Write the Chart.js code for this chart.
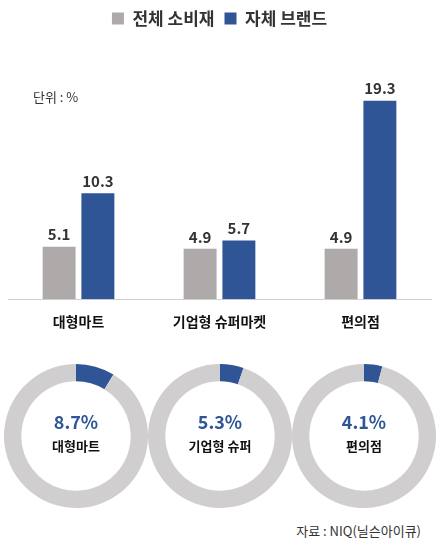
<!DOCTYPE html><html><head><meta charset="utf-8">
<script src="https://cdn.jsdelivr.net/npm/chart.js@4/dist/chart.umd.min.js"></script>
<style>
body{margin:0;width:439px;height:552px;background:#fff;font-family:"Noto Sans CJK KR",sans-serif;position:relative;overflow:hidden}
#bar{position:absolute;left:0;top:0;width:439px;height:336px}
.d{position:absolute;top:364px;width:144px;height:144px}
.lab{position:absolute;top:386px;width:144px;text-align:center;pointer-events:none}
.lab .p{font-size:18px;color:#2f5597;font-weight:bold;margin-top:22px}
.lab .n{font-size:13px;color:#111;font-weight:bold;margin-top:2px}
#unit{position:absolute;left:33px;top:87px;font-size:13px;color:#333}
#src{position:absolute;right:18px;top:521px;font-size:13px;color:#333}
</style></head><body>
<div id="bar"><canvas id="c0"></canvas></div>
<div id="unit">단위 : %</div>
<div class="d" style="left:4px"><canvas id="d0"></canvas></div>
<div class="d" style="left:148px"><canvas id="d1"></canvas></div>
<div class="d" style="left:292px"><canvas id="d2"></canvas></div>
<div class="lab" style="left:4px"><div class="p">8.7%</div><div class="n">대형마트</div></div>
<div class="lab" style="left:148px"><div class="p">5.3%</div><div class="n">기업형 슈퍼</div></div>
<div class="lab" style="left:292px"><div class="p">4.1%</div><div class="n">편의점</div></div>
<div id="src">자료 : NIQ(닐슨아이큐)</div>
<script>
const categories=["대형마트","기업형 슈퍼마켓","편의점"];
const seriesNames=["전체 소비재","자체 브랜드"];
const totalValues=[5.1,4.9,4.9];
const pbValues=[10.3,5.7,19.3];
const shareValues=[8.7,5.3,4.1];
const GREY="#aeaaaa",BLUE="#2f5597";
const labelPlugin={id:"vl",afterDatasetsDraw(ch){const ctx=ch.ctx;ctx.save();ctx.font="bold 15px 'Noto Sans CJK KR'";ctx.fillStyle="#333";ctx.textAlign="center";
ch.data.datasets.forEach((ds,i)=>ch.getDatasetMeta(i).data.forEach((b,j)=>ctx.fillText(ds.data[j].toFixed(1),b.x,b.y-12)));ctx.restore();}};
new Chart(document.getElementById("c0"),{type:"bar",data:{labels:categories,datasets:[
{label:seriesNames[0],data:totalValues,backgroundColor:GREY},
{label:seriesNames[1],data:pbValues,backgroundColor:BLUE}]},
options:{responsive:true,maintainAspectRatio:false,animation:false,
layout:{padding:{left:8,right:8,top:0,bottom:0}},
datasets:{bar:{barPercentage:0.85,categoryPercentage:0.55}},
plugins:{legend:{position:"top",labels:{boxWidth:12,boxHeight:12,font:{size:17,weight:"bold",family:"Noto Sans CJK KR"},color:"#333",padding:10}},tooltip:{enabled:false}},
scales:{x:{grid:{display:false},border:{color:"#d0d0d0"},ticks:{font:{size:14,weight:"bold",family:"Noto Sans CJK KR"},color:"#111",padding:6}},
y:{display:false,min:0,max:25.5}}},plugins:[labelPlugin]});
shareValues.forEach((v,i)=>new Chart(document.getElementById("d"+i),{type:"doughnut",
data:{datasets:[{data:[v,100-v],backgroundColor:[BLUE,"#d0cece"],borderWidth:0}]},
options:{responsive:true,maintainAspectRatio:false,animation:false,cutout:"76%",plugins:{legend:{display:false},tooltip:{enabled:false}}}}));
</script></body></html>
